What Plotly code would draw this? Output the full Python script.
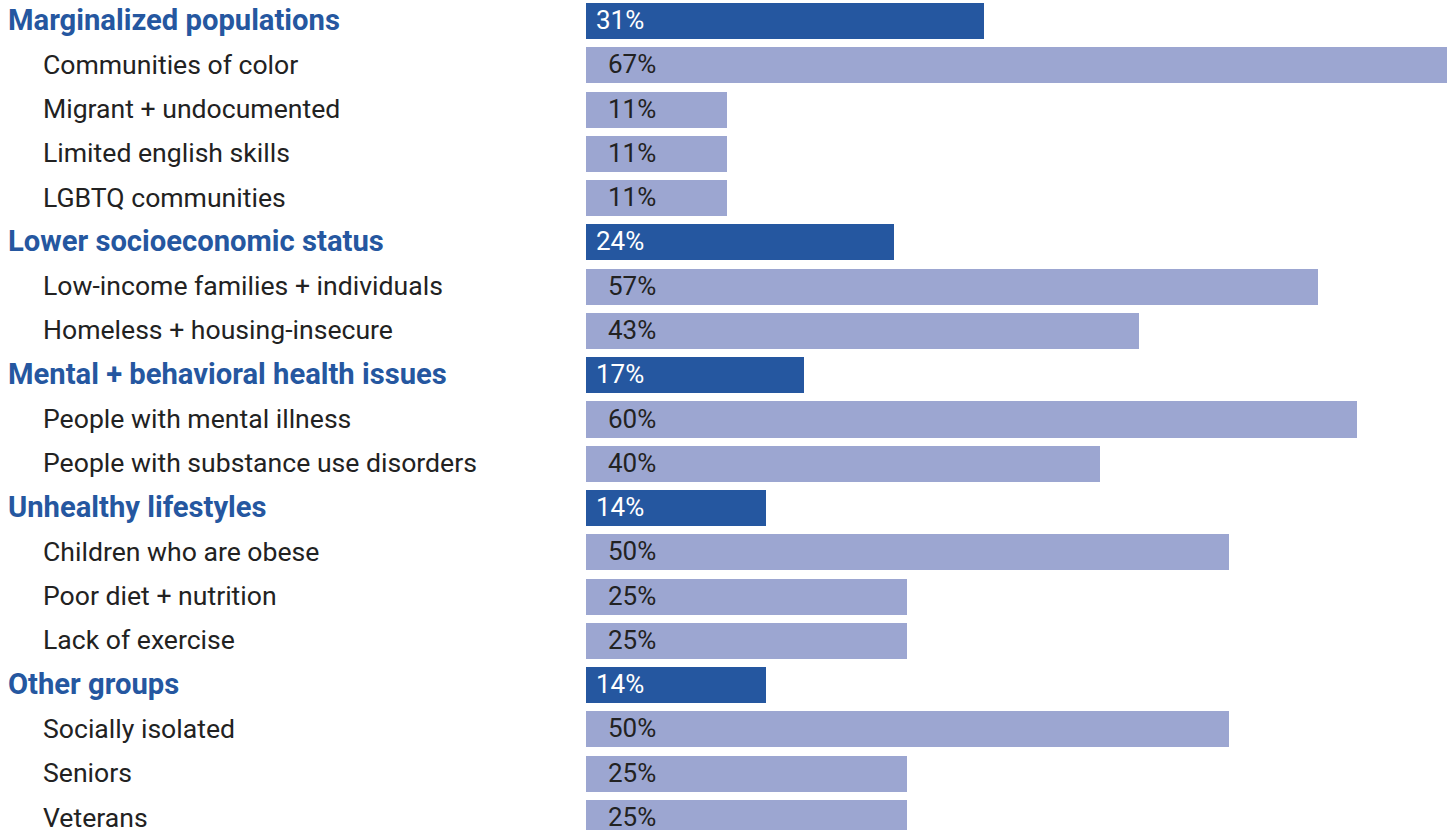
import plotly.graph_objects as go

# Rows, top to bottom; group headers are flagged
labels = [
    "Marginalized populations", "Communities of color", "Migrant + undocumented",
    "Limited english skills", "LGBTQ communities",
    "Lower socioeconomic status", "Low-income families + individuals",
    "Homeless + housing-insecure",
    "Mental + behavioral health issues", "People with mental illness",
    "People with substance use disorders",
    "Unhealthy lifestyles", "Children who are obese", "Poor diet + nutrition",
    "Lack of exercise",
    "Other groups", "Socially isolated", "Seniors", "Veterans",
]
values = [31, 67, 11, 11, 11, 24, 57, 43, 17, 60, 40, 14, 50, 25, 25, 14, 50, 25, 25]
is_group = [True, False, False, False, False, True, False, False, True, False,
            False, True, False, False, False, True, False, False, False]

DARK = "#2557A0"
LIGHT = "#9CA6D1"
FONT = "Roboto"

W, H = 1452, 830
LEFT = 586
rows = list(range(len(labels)))

fig = go.Figure(go.Bar(
    x=values,
    y=rows,
    orientation="h",
    width=0.815,
    marker=dict(color=[DARK if g else LIGHT for g in is_group], line=dict(width=0)),
    hoverinfo="skip",
))

annotations = []
for i, (lab, v, g) in enumerate(zip(labels, values, is_group)):
    # category label on the left
    annotations.append(dict(
        x=0, y=i, xref="paper", yref="y",
        xanchor="left", yanchor="middle",
        xshift=(6 if g else 41) - LEFT,
        yshift=1,
        text=f"<b>{lab}</b>" if g else lab,
        showarrow=False,
        font=dict(family=FONT, size=29.2 if g else 26.6, color=DARK if g else "#222222"),
    ))
    # value label inside the bar
    annotations.append(dict(
        x=0, y=i, xref="x", yref="y",
        xanchor="left", yanchor="middle",
        xshift=8 if g else 20,
        yshift=1,
        text=f"{v}%",
        showarrow=False,
        font=dict(family=FONT, size=26, color="#FFFFFF" if g else "#222222"),
    ))

px_per_row = 44.28
fig.update_layout(
    width=W, height=H,
    margin=dict(l=LEFT, r=0, t=0, b=0),
    paper_bgcolor="white", plot_bgcolor="white",
    showlegend=False,
    bargap=0,
    xaxis=dict(range=[0, (W - LEFT) / 12.85], visible=False, fixedrange=True),
    yaxis=dict(range=[18 + 12 / px_per_row, -21 / px_per_row], visible=False, fixedrange=True),
    annotations=annotations,
)

fig.write_html("out.html", config={"displayModeBar": False})
